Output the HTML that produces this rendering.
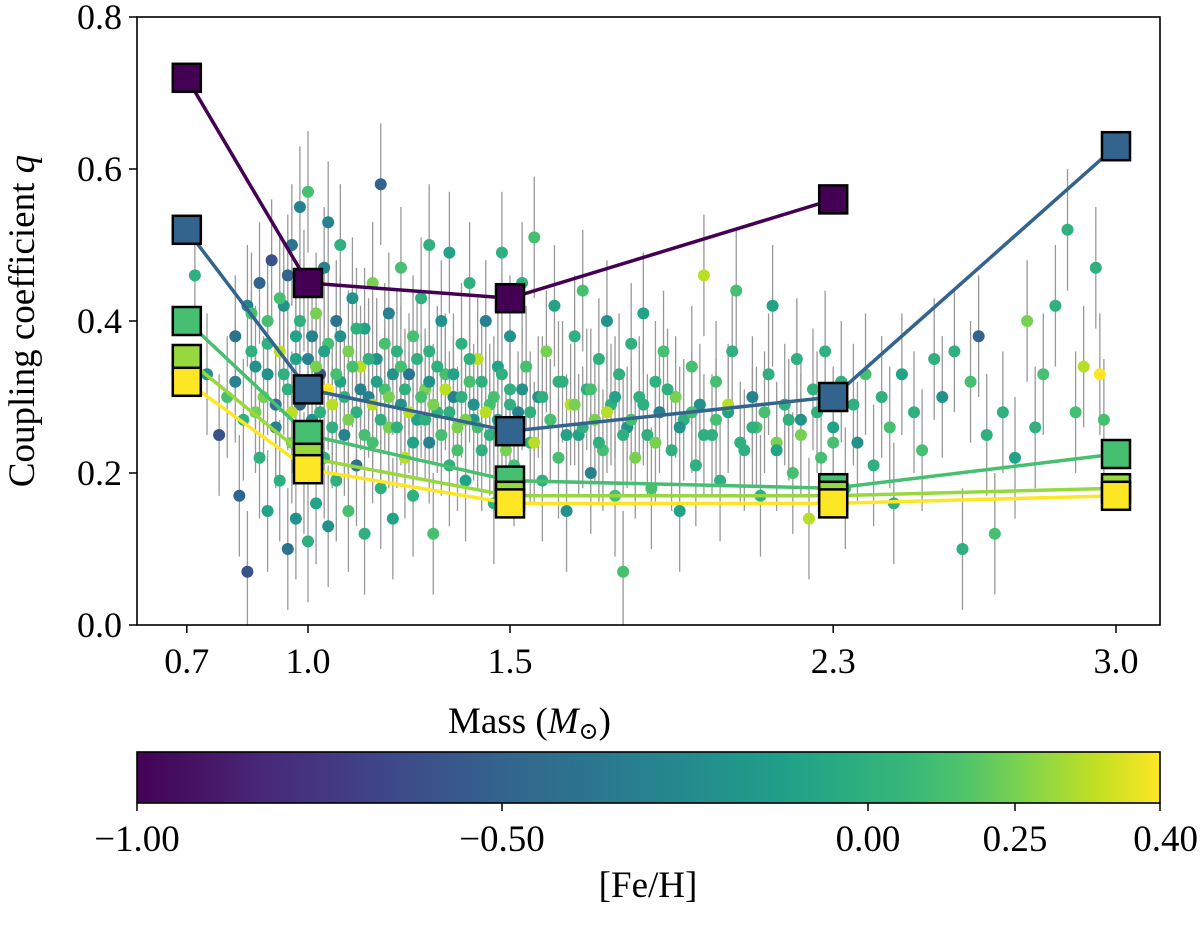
<!DOCTYPE html>
<html><head><meta charset="utf-8"><style>
html,body{margin:0;padding:0;background:#fff;}
svg{display:block;font-family:"Liberation Serif","DejaVu Serif",serif;}
</style></head><body>
<svg id="chart" width="1200" height="930" xmlns="http://www.w3.org/2000/svg">
<defs>
<linearGradient id="vir" x1="0" x2="1" y1="0" y2="0">
<stop offset="0" stop-color="#440154"/><stop offset="0.125" stop-color="#482878"/><stop offset="0.25" stop-color="#3e4989"/><stop offset="0.375" stop-color="#31688e"/><stop offset="0.5" stop-color="#26828e"/><stop offset="0.625" stop-color="#1f9e89"/><stop offset="0.75" stop-color="#35b779"/><stop offset="0.8125" stop-color="#52c569"/><stop offset="0.875" stop-color="#86d549"/><stop offset="0.9375" stop-color="#c2df23"/><stop offset="1" stop-color="#fde725"/>
</linearGradient>
<clipPath id="plotclip"><rect x="137" y="17" width="1023" height="608"/></clipPath>
</defs>
<g id="errs" clip-path="url(#plotclip)"></g>
<g id="pts" clip-path="url(#plotclip)"></g>
<g id="lines"></g>
<rect x="137" y="17" width="1023" height="608" fill="none" stroke="#000" stroke-width="1.6"/>
<g id="axes"></g>
<text x="448" y="733" font-size="37">Mass (<tspan font-style="italic">M</tspan><tspan font-size="24" dy="6">⊙</tspan><tspan dy="-6">)</tspan></text>
<text transform="translate(34,321) rotate(-90)" text-anchor="middle" font-size="37">Coupling coefficient <tspan font-style="italic">q</tspan></text>
<rect x="137" y="752" width="1023" height="51" fill="url(#vir)" stroke="#000" stroke-width="1.6"/>
<g id="cbticks"></g>
<text x="648" y="897" text-anchor="middle" font-size="37">[Fe/H]</text>
</svg>
<script>
const ns="http://www.w3.org/2000/svg";
const lineMasses=[0.7,1.0,1.5,2.3,3.0];
const lineFeh=[-1.0,-0.5,0.1,0.25,0.4];
const lineQ=[[0.72,0.45,0.43,0.56,null],[0.52,0.31,0.255,0.30,0.63],[0.40,0.25,0.19,0.18,0.225],[0.35,0.22,0.17,0.17,0.18],[0.32,0.205,0.16,0.16,0.17]];
const xTicks=[0.7,1.0,1.5,2.3,3.0];
const xTickLabels=["0.7","1.0","1.5","2.3","3.0"];
const yTicks=[0,0.2,0.4,0.6,0.8];
const yTickLabels=["0.0","0.2","0.4","0.6","0.8"];
const cbTicks=[-1.0,-0.5,0.0,0.25,0.4];
const cbTickLabels=["−1.00","−0.50","0.00","0.25","0.40"];
const ptMass=[0.72,0.75,0.78,0.8,0.82,0.83,0.85,0.85,0.86,0.87,0.88,0.88,0.9,0.9,0.9,0.91,0.92,0.93,0.93,0.94,0.95,0.95,0.96,0.96,0.97,0.97,0.98,0.98,0.99,0.99,1.0,1.0,1.0,1.01,1.02,1.02,1.03,1.04,1.04,1.05,1.05,1.06,1.07,1.07,1.08,1.08,1.09,1.1,1.1,1.11,1.12,1.12,1.13,1.14,1.14,1.15,1.16,1.16,1.17,1.18,1.18,1.19,1.2,1.2,1.21,1.22,1.23,1.23,1.24,1.25,1.26,1.26,1.27,1.28,1.29,1.3,1.3,1.31,1.32,1.33,1.34,1.35,1.35,1.36,1.37,1.38,1.39,1.4,1.4,1.41,1.42,1.43,1.44,1.45,1.46,1.47,1.48,1.48,1.5,1.5,1.51,1.52,1.53,1.54,1.55,1.56,1.57,1.58,1.59,1.6,1.61,1.62,1.63,1.64,1.65,1.66,1.67,1.68,1.69,1.7,1.71,1.72,1.73,1.74,1.75,1.76,1.77,1.78,1.79,1.8,1.81,1.82,1.83,1.84,1.85,1.86,1.87,1.88,1.9,1.91,1.92,1.93,1.95,1.96,1.97,1.98,2.0,2.01,2.02,2.04,2.05,2.06,2.08,2.1,2.11,2.12,2.14,2.15,2.16,2.18,2.2,2.21,2.22,2.24,2.25,2.27,2.28,2.3,2.32,2.33,2.35,2.36,2.38,2.4,2.42,2.44,2.45,2.47,2.5,2.52,2.55,2.57,2.6,2.62,2.64,2.66,2.68,2.7,2.72,2.75,2.78,2.8,2.82,2.85,2.88,2.9,2.92,2.95,2.96,2.97,1.3,1.05,0.95];
const ptQ=[0.46,0.33,0.25,0.30,0.38,0.17,0.07,0.42,0.36,0.28,0.45,0.22,0.33,0.40,0.15,0.48,0.26,0.36,0.19,0.42,0.31,0.10,0.50,0.24,0.38,0.14,0.55,0.29,0.44,0.20,0.57,0.35,0.11,0.27,0.41,0.16,0.33,0.22,0.47,0.37,0.13,0.29,0.40,0.19,0.32,0.50,0.25,0.36,0.15,0.43,0.28,0.21,0.34,0.39,0.12,0.30,0.24,0.45,0.35,0.18,0.58,0.31,0.41,0.26,0.14,0.36,0.29,0.47,0.22,0.33,0.38,0.17,0.27,0.43,0.31,0.24,0.36,0.12,0.28,0.40,0.33,0.21,0.49,0.30,0.26,0.37,0.19,0.32,0.45,0.27,0.35,0.23,0.40,0.29,0.16,0.34,0.49,0.25,0.31,0.38,0.21,0.28,0.45,0.34,0.24,0.51,0.30,0.19,0.36,0.27,0.42,0.22,0.32,0.15,0.29,0.38,0.25,0.44,0.31,0.20,0.27,0.35,0.23,0.40,0.29,0.17,0.33,0.07,0.26,0.37,0.22,0.30,0.41,0.25,0.18,0.32,0.28,0.36,0.23,0.30,0.15,0.27,0.34,0.21,0.29,0.46,0.25,0.32,0.19,0.28,0.36,0.44,0.23,0.30,0.26,0.17,0.33,0.42,0.24,0.29,0.20,0.35,0.27,0.14,0.31,0.22,0.36,0.26,0.32,0.18,0.29,0.24,0.33,0.21,0.30,0.26,0.16,0.33,0.28,0.23,0.35,0.30,0.36,0.10,0.32,0.38,0.25,0.12,0.28,0.22,0.40,0.26,0.33,0.42,0.52,0.28,0.34,0.47,0.33,0.27,0.50,0.53,0.46];
const ptFeh=[0,-0.2,-0.6,0.1,-0.4,-0.5,-0.6,-0.3,0,0.2,-0.5,0,-0.2,0.1,-0.1,-0.6,-0.3,0.3,0,-0.2,0,-0.4,-0.4,0.2,-0.1,-0.2,-0.3,-0.5,0,0.1,0.1,-0.3,0,-0.2,0.2,-0.1,-0.6,0,-0.3,0.1,-0.2,0.3,-0.4,0,-0.1,0,-0.3,0.2,0.1,-0.2,0,-0.4,0.3,-0.1,0,-0.3,0.1,0.2,-0.2,0,-0.5,0.1,-0.3,0.2,-0.1,0,-0.2,0.1,0.3,-0.4,0.1,0,-0.1,0,0.2,-0.3,0,0.1,0,-0.2,0.1,0,-0.1,-0.3,0.2,0,-0.1,0.1,0,-0.2,0.3,0,-0.3,0.1,0,-0.1,0,0.2,0,-0.2,0.1,-0.3,0,0.1,0,0.1,-0.2,0,0.2,0,-0.1,0.1,0,-0.2,0.3,0,-0.1,0.1,0,-0.3,0.2,0,0.1,-0.2,0,0.1,0,0.1,-0.2,0,0.2,0,-0.1,0,0.1,0,-0.3,0.1,0,0.2,-0.1,0,0.1,0,-0.2,0.3,0,0.1,0,-0.1,0,0.1,0,-0.3,0.1,0,0,-0.1,0.2,0,0.1,0,-0.2,0.3,0,0.1,0,-0.1,0,0.1,0,-0.2,0.1,0,0,0.1,0,-0.1,0,0.1,0,-0.2,0,0,0.1,-0.5,0,0.1,0,-0.1,0.2,0,0.1,0,0,0.1,0.3,0,0.4,0.1,0,-0.3,-0.5];
const ptMass2=[0.82,0.84,0.86,0.87,0.89,0.9,0.92,0.93,0.94,0.96,0.97,0.98,1.0,1.01,1.02,1.03,1.04,1.05,1.06,1.07,1.08,1.09,1.1,1.11,1.12,1.13,1.14,1.15,1.16,1.17,1.18,1.19,1.2,1.21,1.22,1.23,1.24,1.25,1.26,1.27,1.28,1.29,1.3,1.31,1.32,1.33,1.34,1.35,1.36,1.37,1.38,1.39,1.4,1.41,1.42,1.43,1.44,1.45,1.46,1.47,1.48,1.49,1.5,1.52,1.53,1.55,1.56,1.58,1.6,1.62,1.64,1.66,1.68,1.7,1.72,1.74,1.76,1.78,1.8,1.83,1.86,1.89,1.92,1.95,1.98,2.01,2.04,2.07,2.1,2.13,2.16,2.19,2.22,2.26,2.3];
const ptQ2=[0.32,0.27,0.41,0.34,0.30,0.37,0.29,0.43,0.33,0.28,0.35,0.40,0.30,0.38,0.34,0.28,0.36,0.31,0.26,0.33,0.38,0.30,0.27,0.34,0.39,0.31,0.25,0.35,0.29,0.32,0.27,0.37,0.30,0.33,0.26,0.34,0.31,0.28,0.24,0.35,0.30,0.27,0.32,0.29,0.34,0.25,0.31,0.28,0.33,0.23,0.30,0.27,0.35,0.29,0.26,0.32,0.28,0.25,0.30,0.27,0.33,0.23,0.29,0.26,0.31,0.28,0.24,0.30,0.27,0.32,0.25,0.29,0.26,0.31,0.24,0.28,0.30,0.25,0.27,0.29,0.24,0.31,0.26,0.28,0.25,0.27,0.29,0.24,0.26,0.28,0.23,0.27,0.25,0.28,0.24];
const ptFeh2=[-0.3,0,0.1,-0.2,0.2,0,-0.4,0.1,0,0.3,-0.1,0,0.1,-0.3,0.2,0,-0.1,0.4,0,0.1,-0.2,0,0.2,0.1,0,-0.3,0.1,0,0.3,-0.1,0,0.1,0.2,-0.2,0,0.1,0,0.3,-0.1,0,0.1,0,-0.2,0.2,0,0.1,0.3,0,-0.1,0.1,0,0.2,0,-0.2,0.1,0,0.3,0,0.1,-0.1,0,0.2,0,0.1,-0.2,0,0.3,0,0.1,0,-0.1,0.2,0,0.1,0,0.3,-0.1,0,0.1,0,0.2,0,-0.2,0.1,0,0.1,0.3,0,0,0.1,-0.1,0,0.2,0,0.1];
const ptErr=0.08;

function xs(m){return 308+(m-1.0)*404;}
function ys(q){return 625-q*760;}
const cbPx=[137,502,868,1015,1160];
function cbx(f){for(let i=0;i<cbTicks.length-1;i++){if(f<=cbTicks[i+1]){return cbPx[i]+(f-cbTicks[i])/(cbTicks[i+1]-cbTicks[i])*(cbPx[i+1]-cbPx[i]);}}return 1160;}
const vstops=[[0,"#440154"],[0.125,"#482878"],[0.25,"#3e4989"],[0.375,"#31688e"],[0.5,"#26828e"],[0.625,"#1f9e89"],[0.75,"#35b779"],[0.8125,"#52c569"],[0.875,"#86d549"],[0.9375,"#c2df23"],[1,"#fde725"]];
function hx(h){return [1,3,5].map(i=>parseInt(h.substr(i,2),16));}
function viridis(t){t=Math.max(0,Math.min(1,t));for(let i=0;i<vstops.length-1;i++){if(t<=vstops[i+1][0]){const a=hx(vstops[i][1]),b=hx(vstops[i+1][1]);const u=(t-vstops[i][0])/(vstops[i+1][0]-vstops[i][0]);return "rgb("+a.map((v,k)=>Math.round(v+(b[k]-v)*u)).join(",")+")";}}return "#fde725";}
function col(f){return viridis((f+1)/1.4);}
function mk(tag,attrs,parent){const e=document.createElementNS(ns,tag);for(const k in attrs)e.setAttribute(k,attrs[k]);parent.appendChild(e);return e;}

const gE=document.getElementById("errs"),gP=document.getElementById("pts"),gL=document.getElementById("lines"),gA=document.getElementById("axes"),gC=document.getElementById("cbticks");
function drawPts(M,Q,F){
  const n=Math.min(M.length,Q.length,F.length);
  for(let i=0;i<n;i++){
    const x=xs(M[i]);
    const l=mk("line",{x1:x,x2:x,y1:ys(Q[i]-ptErr),y2:ys(Q[i]+ptErr),stroke:"#999","stroke-width":1.3},gE);
    
    
  }
  for(let i=0;i<n;i++){
    const c=mk("circle",{cx:xs(M[i]),cy:ys(Q[i]),r:6,fill:col(F[i])},gP);
    
    
  }
}
drawPts(ptMass,ptQ,ptFeh);
drawPts(ptMass2,ptQ2,ptFeh2);
for(let s=0;s<lineQ.length;s++){
  const c=col(lineFeh[s]);let d="";
  lineQ[s].forEach((q,i)=>{if(q===null)return;d+=(d?"L":"M")+xs(lineMasses[i])+","+ys(q);});
  const p2=mk("path",{d:d,fill:"none",stroke:c,"stroke-width":3.5},gL);
  
  
}
for(let s=0;s<lineQ.length;s++){
  const c=col(lineFeh[s]);
  lineQ[s].forEach((q,i)=>{if(q===null)return;
    const r=mk("rect",{x:xs(lineMasses[i])-14,y:ys(q)-14,width:28,height:28,fill:c,stroke:"#000","stroke-width":2.5},gL);
    
    
  });
}
xTicks.forEach((v,i)=>{const x=xs(v);
  const t=mk("line",{x1:x,x2:x,y1:625,y2:633,stroke:"#000","stroke-width":1.5},gA);
  
  
  const l=mk("text",{x:x,y:673,"text-anchor":"middle","font-size":36},gA);l.textContent=xTickLabels[i];
  
  
});
yTicks.forEach((v,i)=>{const y=ys(v);
  const t=mk("line",{x1:129,x2:137,y1:y,y2:y,stroke:"#000","stroke-width":1.5},gA);
  
  
  const l=mk("text",{x:122,y:y+12,"text-anchor":"end","font-size":36},gA);l.textContent=yTickLabels[i];
  
  
});
cbTicks.forEach((v,i)=>{const x=cbx(v);
  const t=mk("line",{x1:x,x2:x,y1:803,y2:811,stroke:"#000","stroke-width":1.5},gC);
  
  
  let anchor="middle",xx=x;
  if(i===cbTicks.length-1){anchor="end";xx=1198;}
  const l=mk("text",{x:xx,y:851,"text-anchor":anchor,"font-size":37},gC);l.textContent=cbTickLabels[i];
  
  
});
</script>
</body></html>
